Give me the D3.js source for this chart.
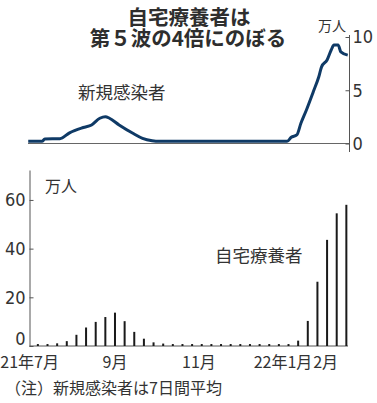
<!DOCTYPE html>
<html>
<head>
<meta charset="utf-8">
<script src="https://cdn.jsdelivr.net/npm/d3@7"></script>
<style>
  body { margin: 0; background: #fff; }
  svg { display: block; }
  .num { font-family: "Liberation Sans Narrow", "DejaVu Sans Condensed", sans-serif; }
  .jp { font-family: "Liberation Sans Narrow", "Noto Sans CJK JP", sans-serif; }
</style>
</head>
<body>
<div id="chart"></div>
<script>
// new cases, 7-day average (万人)
var caseDates = ["2021-06-30", "2021-07-10", "2021-07-12", "2021-07-23", "2021-07-30", "2021-08-09",
  "2021-08-15", "2021-08-21", "2021-08-25", "2021-08-28", "2021-09-04", "2021-09-14", "2021-09-21",
  "2021-09-28", "2021-10-03", "2022-01-04", "2022-01-07", "2022-01-11", "2022-01-14", "2022-01-18",
  "2022-01-23", "2022-01-27", "2022-01-29", "2022-02-02", "2022-02-05", "2022-02-07", "2022-02-10",
  "2022-02-12", "2022-02-17"];
var caseValues = [0.2, 0.2, 0.42, 0.45, 1.0, 1.5,
  1.74, 2.37, 2.52, 2.37, 1.74, 0.96, 0.49,
  0.26, 0.2, 0.2, 0.58, 0.8, 1.9, 3.15,
  4.86, 6.27, 7.2, 7.84, 8.78, 9.25, 9.25,
  8.6, 8.3];

// people recovering at home, weekly (万人)
var homeDates = ["2021-07-07", "2021-07-14", "2021-07-21", "2021-07-28", "2021-08-04", "2021-08-11",
  "2021-08-18", "2021-08-25", "2021-09-01", "2021-09-08", "2021-09-15", "2021-09-22", "2021-09-29",
  "2021-10-06", "2021-10-13", "2021-10-20", "2021-10-27", "2021-11-03", "2021-11-10", "2021-11-17",
  "2021-11-24", "2021-12-01", "2021-12-08", "2021-12-15", "2021-12-22", "2021-12-29", "2022-01-05",
  "2022-01-12", "2022-01-19", "2022-01-26", "2022-02-02", "2022-02-09", "2022-02-16"];
var homeValues = [0.8, 0.8, 1.1, 2.0, 4.6, 7.6,
  9.9, 11.9, 13.7, 10.2, 5.8, 3.0, 1.5,
  1.0, 0.8, 0.8, 0.8, 0.8, 0.8, 0.8,
  0.8, 0.8, 0.8, 0.8, 0.8, 0.8, 0.8,
  2.2, 10.3, 26.4, 43.6, 54.5, 58.0];

var monthDates = ["2021-07-01", "2021-09-01", "2021-11-01", "2022-01-01", "2022-02-01"];
var monthLabels = ["21年7月", "9月", "11月", "22年1月", "2月"];
var caseTicks = [0, 5, 10];
var homeTicks = [0, 20, 40, 60];
var titleLines = ["自宅療養者は", "第５波の4倍にのぼる"];

document.addEventListener("DOMContentLoaded", function() {
  var width = 377, height = 403;
  var parse = d3.timeParse("%Y-%m-%d");

  var svg = d3.select("#chart").append("svg")
    .attr("width", width)
    .attr("height", height);

  // shared time scale
  var x = d3.scaleTime()
    .domain([parse("2021-07-01"), parse("2022-01-01")])
    .range([29.6, 283]);

  // title, two lines
  svg.selectAll(".title")
    .data(titleLines)
    .enter().append("text")
    .attr("class", "jp title")
    .attr("x", function(d, i) { return i === 0 ? 189 : 188; })
    .attr("y", function(d, i) { return 25 + i * 20.5; })
    .attr("text-anchor", "middle")
    .attr("font-size", 20.5)
    .attr("font-weight", 700)
    .attr("fill", "#2e2e2e")
    .text(function(d) { return d; });

  // ---- top chart: new cases line ----
  var yTop = d3.scaleLinear().domain([0, 10]).range([143.5, 37]);

  svg.append("line")
    .attr("x1", 28).attr("x2", 349.5)
    .attr("y1", yTop(0)).attr("y2", yTop(0))
    .attr("stroke", "#666").attr("stroke-width", 1);

  svg.append("line")
    .attr("x1", 349.5).attr("x2", 349.5)
    .attr("y1", 35).attr("y2", 152)
    .attr("stroke", "#555").attr("stroke-width", 1);

  var topAxis = svg.append("g")
    .attr("transform", "translate(349.5,0)")
    .call(d3.axisRight(yTop).tickValues(caseTicks).tickSize(-4).tickPadding(3).tickFormat(d3.format("d")));
  topAxis.select(".domain").remove();
  topAxis.selectAll("line").attr("stroke", "#555");
  topAxis.selectAll("text")
    .attr("class", "num")
    .attr("font-size", 18)
    .attr("fill", "#333");

  svg.append("text")
    .attr("class", "jp")
    .attr("x", 346).attr("y", 31)
    .attr("text-anchor", "end")
    .attr("font-size", 14)
    .attr("fill", "#333")
    .text("万人");

  var caseLine = d3.line()
    .x(function(d, i) { return x(parse(caseDates[i])); })
    .y(function(d) { return yTop(d); })
    .curve(d3.curveMonotoneX);

  svg.append("path")
    .datum(caseValues)
    .attr("d", caseLine)
    .attr("fill", "none")
    .attr("stroke", "#0f3a66")
    .attr("stroke-width", 3)
    .attr("stroke-linejoin", "round");

  svg.append("text")
    .attr("class", "jp")
    .attr("x", 78).attr("y", 99)
    .attr("font-size", 17.5)
    .attr("fill", "#333")
    .text("新規感染者");

  // ---- bottom chart: home recovery bars ----
  var yBot = d3.scaleLinear().domain([0, 72.3]).range([346, 170]);

  var botAxis = svg.append("g")
    .attr("transform", "translate(29.5,0)")
    .call(d3.axisLeft(yBot).tickValues(homeTicks).tickSize(-4).tickPadding(4).tickSizeOuter(0));
  botAxis.select(".domain").attr("stroke", "#555");
  botAxis.selectAll(".tick line").attr("stroke", "#555");
  botAxis.selectAll("text")
    .attr("class", "num")
    .attr("font-size", 18)
    .attr("fill", "#333")
    .attr("dy", function(d) { return d === 0 ? "-0.1em" : "0.32em"; });

  svg.append("line")
    .attr("x1", 29.5).attr("x2", 348)
    .attr("y1", yBot(0)).attr("y2", yBot(0))
    .attr("stroke", "#555").attr("stroke-width", 1);

  svg.selectAll(".bar")
    .data(homeValues)
    .enter().append("rect")
    .attr("class", "bar")
    .attr("x", function(d, i) { return x(parse(homeDates[i])) - 1; })
    .attr("width", 2)
    .attr("y", function(d) { return yBot(d); })
    .attr("height", function(d) { return yBot(0) - yBot(d); })
    .attr("fill", "#1a1a1a");

  svg.append("text")
    .attr("class", "jp")
    .attr("x", 45).attr("y", 192)
    .attr("font-size", 16)
    .attr("fill", "#333")
    .text("万人");

  svg.append("text")
    .attr("class", "jp")
    .attr("x", 215).attr("y", 261.5)
    .attr("font-size", 17.5)
    .attr("fill", "#333")
    .text("自宅療養者");

  // month labels
  svg.selectAll(".month")
    .data(monthLabels)
    .enter().append("text")
    .attr("class", "jp month")
    .attr("x", function(d, i) { return x(parse(monthDates[i])); })
    .attr("y", 367.5)
    .attr("text-anchor", "middle")
    .attr("font-size", 16)
    .attr("fill", "#333")
    .text(function(d) { return d; });

  // note
  svg.append("text")
    .attr("class", "jp")
    .attr("x", 5).attr("y", 394)
    .attr("font-size", 16)
    .attr("fill", "#333")
    .text("（注）新規感染者は7日間平均");
});
</script>
</body>
</html>
